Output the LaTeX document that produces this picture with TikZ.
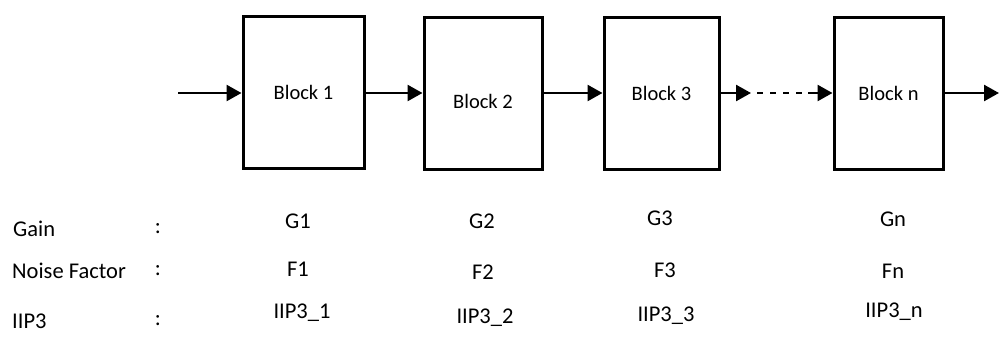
\documentclass[tikz,border=0pt]{standalone}
\usepackage{fontspec}
\setmainfont{Carlito}
\usetikzlibrary{arrows.meta}
\begin{document}
\begin{tikzpicture}[x=1pt,y=-1pt,
  blockbox/.style={draw=black,line width=3pt,minimum height=152pt,inner sep=0pt,font=\fontsize{20.5}{24}\selectfont},
  blocktext/.style={font=\fontsize{20.5}{24}\selectfont,inner sep=0pt},
  flow/.style={line width=2.5pt,-{Triangle[length=15pt,width=16pt]}},
  plainline/.style={line width=2.5pt},
  lbl/.style={font=\fontsize{22.5}{26}\selectfont,inner sep=0pt,anchor=center},
  lbll/.style={lbl,anchor=west}]
\useasboundingbox (0,0) rectangle (999,354);
\node[blockbox,minimum width=121pt] (b1) at (303.5,92) {Block 1};
\node[blockbox,minimum width=118pt,label={[blocktext,yshift=-8pt]center:Block 2}] (b2) at (483,93) {};
\node[blockbox,minimum width=115pt] (b3) at (661.5,93) {Block 3};
\node[blockbox,minimum width=109pt] (b4) at (888.5,93) {Block n};
\coordinate (in) at (178,93);
\coordinate (out) at (999,93);
\coordinate (d1) at (751,93);
\coordinate (d2) at (808,93);
\draw[flow] (in) -- (in -| b1.west);
\draw[flow] (b1.east |- in) -- (b2.west |- in);
\draw[flow] (b2.east |- in) -- (b3.west |- in);
\draw[flow] (b3.east |- in) -- (d1);
\draw[plainline,dash pattern=on 6pt off 7pt] (757,93) -- (d2);
\draw[flow] (d2) -- (b4.west |- in);
\draw[flow] (b4.east |- in) -- (out);
% row labels
\node[lbll] (gain) at (13,229) {Gain};
\node[lbll] (nf) at (12,271) {Noise Factor};
\node[lbll] (iip) at (12,321) {IIP3};
\node[lbl] (c1) at (158,229) {:};
\node[lbl] (c2) at (158,271) {:};
\node[lbl] (c3) at (158,321) {:};
% values
\node[lbl] (g1) at (298,221) {G1};
\node[lbl] (g2) at (482,221) {G2};
\node[lbl] (g3) at (660,218) {G3};
\node[lbl] (gn) at (893,219) {Gn};
\node[lbl] (f1) at (298,269) {F1};
\node[lbl] (f2) at (483,272) {F2};
\node[lbl] (f3) at (665,270) {F3};
\node[lbl] (fn) at (893,271) {Fn};
\node[lbl] (i1) at (302,313) {IIP3\_1};
\node[lbl] (i2) at (485,318) {IIP3\_2};
\node[lbl] (i3) at (666,316) {IIP3\_3};
\node[lbl] (in4) at (894,312) {IIP3\_n};
\end{tikzpicture}
\end{document}
